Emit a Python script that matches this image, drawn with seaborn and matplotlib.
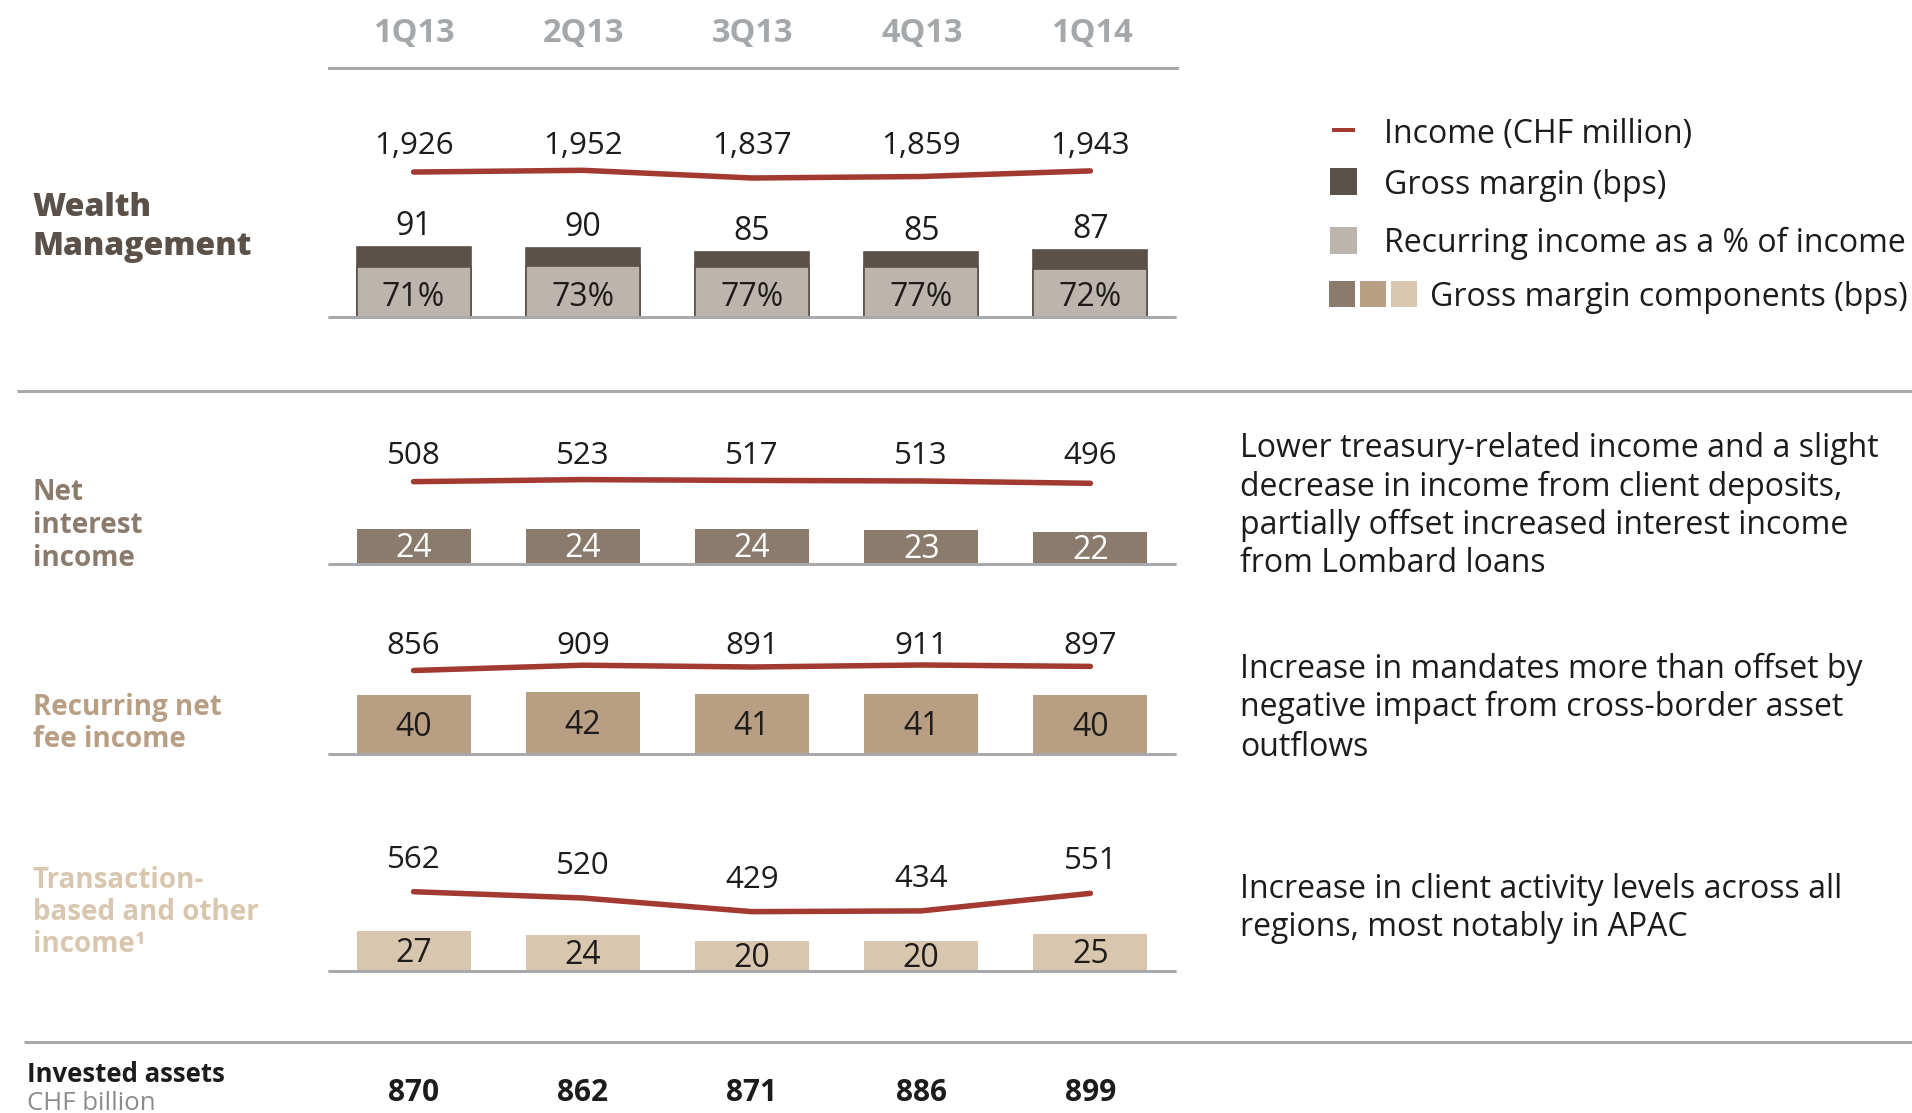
import matplotlib
matplotlib.use("Agg")
import matplotlib.pyplot as plt
from matplotlib.patches import Rectangle
from matplotlib.transforms import blended_transform_factory
import seaborn as sns

# data
quarters = ["1Q13", "2Q13", "3Q13", "4Q13", "1Q14"]

wm_income = [1926, 1952, 1837, 1859, 1943]
wm_margin = [91, 90, 85, 85, 87]
wm_recurring_pct = [71, 73, 77, 77, 72]

nii_income = [508, 523, 517, 513, 496]
nii_margin = [24, 24, 24, 23, 22]

rnfi_income = [856, 909, 891, 911, 897]
rnfi_margin = [40, 42, 41, 41, 40]

tbi_income = [562, 520, 429, 434, 551]
tbi_margin = [27, 24, 20, 20, 25]

invested_assets = [870, 862, 871, 886, 899]

nii_note = ["Lower treasury-related income and a slight",
            "decrease in income from client deposits,",
            "partially offset increased interest income",
            "from Lombard loans"]
rnfi_note = ["Increase in mandates more than offset by",
             "negative impact from cross-border asset",
             "outflows"]
tbi_note = ["Increase in client activity levels across all",
            "regions, most notably in APAC"]

legend_labels = ["Income (CHF million)", "Gross margin (bps)",
                 "Recurring income as a % of income",
                 "Gross margin components (bps)"]

# colours
DARK = "#5b5148"
LIGHT = "#bcb5ad"
NII_C = "#8b7b6c"
RNFI_C = "#b89e83"
TBI_C = "#d9c6ae"
RED = "#a33a32"
GREY = "#a7a9ac"
TXT = "#1e1c1a"

sns.set_theme(style="white")
plt.rcParams["font.family"] = ["Open Sans", "DejaVu Sans"]

W, H = 1912, 1113
fig = plt.figure(figsize=(W / 100, H / 100), dpi=100)
fig.patch.set_facecolor("white")


def pt(px):
    return px * 72 / 100


def px_axes(x0, x1, top, bottom):
    ax = fig.add_axes([x0 / W, 1 - bottom / H, (x1 - x0) / W, (bottom - top) / H])
    ax.set_facecolor("none")
    return ax


def clean(ax):
    ax.set_xlabel("")
    ax.set_ylabel("")
    ax.set_xticks([])
    ax.set_yticks([])
    for s in ax.spines.values():
        s.set_visible(False)


# overlay in pixel coordinates for the static text
ov = fig.add_axes([0, 0, 1, 1])
ov.set_xlim(0, W)
ov.set_ylim(H, 0)
ov.axis("off")

X0, X1 = 329, 1175
BAR_W = 0.674
NUM = 22.5
BARNUM = 23
NOTE = 23
N = len(quarters)


def panel(top, base, px_per_bps, margin, color, income, ref_val, ref_px, k,
          lab_y=None, lab_off=0, stack=None, edge=None):
    ax = px_axes(X0, X1, top, base)
    kw = dict(edgecolor=edge, linewidth=1.2) if edge else dict(linewidth=0)
    sns.barplot(x=quarters, y=margin, color=color, width=BAR_W, saturation=1, ax=ax, **kw)
    if stack is not None:
        sns.barplot(x=quarters, y=stack[0], color=stack[1], width=BAR_W, saturation=1,
                    ax=ax, **kw)
    ax.set_xlim(-0.5, N - 0.5)
    ax.set_ylim(0, (base - top) / px_per_bps)
    ax.axhline(0, color=GREY, lw=pt(3), clip_on=False, zorder=3)
    clean(ax)

    ax2 = ax.twinx()
    ax2.set_ylim(ref_val + (ref_px - base) / k, ref_val + (ref_px - top) / k)
    sns.lineplot(x=list(range(N)), y=income, color=RED, lw=pt(5.5),
                 solid_capstyle="round", ax=ax2)
    tr = blended_transform_factory(ax2.transData, ov.transData)
    for i, v in enumerate(income):
        if lab_y is not None:
            ax2.text(i, lab_y, f"{v:,}", transform=tr, ha="center", va="baseline",
                     fontsize=NUM, color=TXT)
        else:
            ax2.annotate(f"{v:,}", (i, v), xytext=(0, pt(lab_off)), textcoords="offset points",
                         ha="center", va="baseline", fontsize=NUM, color=TXT)
    ax2.set_xlim(-0.5, N - 0.5)
    clean(ax2)
    return ax


def inner_labels(ax, margin, color):
    for i, v in enumerate(margin):
        ax.annotate(f"{v}", (i, v / 2), xytext=(0, -pt(11)), textcoords="offset points",
                    ha="center", va="baseline", fontsize=BARNUM, color=color)


# Wealth Management
recurring_part = [m * p / 100 for m, p in zip(wm_margin, wm_recurring_pct)]
ax_wm = panel(95, 317, 0.77, wm_margin, DARK, wm_income, 1952, 170.3, 0.067,
              lab_y=154.5, stack=(recurring_part, LIGHT), edge=DARK)
for i, (m, p) in enumerate(zip(wm_margin, wm_recurring_pct)):
    ax_wm.annotate(f"{m}", (i, m), xytext=(0, pt(12)), textcoords="offset points",
                   ha="center", va="baseline", fontsize=BARNUM, color=TXT)
    ax_wm.annotate(f"{p}%", (i, 0), xytext=(0, pt(11)), textcoords="offset points",
                   ha="center", va="baseline", fontsize=BARNUM, color=TXT)

# Net interest income
ax_nii = panel(420, 564, 1.47, nii_margin, NII_C, nii_income, 523, 479.6, 0.137, lab_y=464)
inner_labels(ax_nii, nii_margin, "white")

# Recurring net fee income
ax_rn = panel(600, 754, 1.47, rnfi_margin, RNFI_C, rnfi_income, 911, 665, 0.1, lab_y=654)
inner_labels(ax_rn, rnfi_margin, TXT)

# Transaction-based income
ax_tb = panel(800, 971, 1.5, tbi_margin, TBI_C, tbi_income, 562, 891.7, 0.15, lab_off=24)
inner_labels(ax_tb, tbi_margin, TXT)

# header row
ax_h = px_axes(X0, X1 + 2, 0, 68)
ax_h.set_xlim(-0.5, N - 0.5)
clean(ax_h)
ax_h.spines["bottom"].set_visible(True)
ax_h.spines["bottom"].set_color(GREY)
ax_h.spines["bottom"].set_linewidth(pt(3))
tr_h = blended_transform_factory(ax_h.transData, ov.transData)
for i, q in enumerate(quarters):
    ax_h.text(i, 42, q, transform=tr_h, ha="center", va="baseline",
              fontsize=23.5, fontweight="bold", color="#a5a8ab")

# invested assets row
ax_ia = px_axes(X0, X1, 1045, H)
ax_ia.set_xlim(-0.5, N - 0.5)
clean(ax_ia)
tr_ia = blended_transform_factory(ax_ia.transData, ov.transData)
for i, v in enumerate(invested_assets):
    ax_ia.text(i, 1101, f"{v}", transform=tr_ia, ha="center", va="baseline",
               fontsize=21.5, fontweight="bold", color=TXT)

# separators
ov.plot([17, W], [391, 391], color=GREY, lw=pt(3), solid_capstyle="butt")
ov.plot([24, W], [1042, 1042], color=GREY, lw=pt(3), solid_capstyle="butt")

# row titles
ov.text(33, 216, "Wealth", fontsize=23, fontweight=800, color=DARK, va="baseline")
ov.text(33, 255, "Management", fontsize=23, fontweight=800, color=DARK, va="baseline")
for y, s in zip([500, 533, 566], ["Net", "interest", "income"]):
    ov.text(33, y, s, fontsize=20, fontweight="bold", color=NII_C, va="baseline")
for y, s in zip([715, 747], ["Recurring net", "fee income"]):
    ov.text(33, y, s, fontsize=20, fontweight="bold", color=RNFI_C, va="baseline")
for y, s in zip([888, 920, 952], ["Transaction-", "based and other", "income\u00b9"]):
    ov.text(33, y, s, fontsize=20, fontweight="bold", color=TBI_C, va="baseline")
ov.text(27, 1082, "Invested assets", fontsize=18.5, fontweight="bold", color=TXT, va="baseline")
ov.text(27, 1110.5, "CHF billion", fontsize=18.5, color="#8a8c8f", va="baseline")

# notes
for y, s in zip([457, 495.5, 534, 572.5], nii_note):
    ov.text(1240, y, s, fontsize=NOTE, color=TXT, va="baseline")
for y, s in zip([678.5, 716.5, 755.5], rnfi_note):
    ov.text(1240, y, s, fontsize=NOTE, color=TXT, va="baseline")
for y, s in zip([897.5, 935.5], tbi_note):
    ov.text(1240, y, s, fontsize=NOTE, color=TXT, va="baseline")

# legend
ov.plot([1332, 1355], [130, 130], color=RED, lw=pt(4), solid_capstyle="butt")
ov.text(1384, 143.5, legend_labels[0], fontsize=NOTE, color=TXT, va="baseline")
ov.add_patch(Rectangle((1330, 168), 27, 27, color=DARK, lw=0))
ov.text(1384, 194, legend_labels[1], fontsize=NOTE, color=TXT, va="baseline")
ov.add_patch(Rectangle((1330, 227), 27, 27, color=LIGHT, lw=0))
ov.text(1384, 252.5, legend_labels[2], fontsize=NOTE, color=TXT, va="baseline")
for x, c in zip([1329, 1360, 1391], [NII_C, RNFI_C, TBI_C]):
    ov.add_patch(Rectangle((x, 281), 26, 26, color=c, lw=0))
ov.text(1430, 306, legend_labels[3], fontsize=NOTE, color=TXT, va="baseline")

fig.savefig("out.png", dpi=100, facecolor="white")
